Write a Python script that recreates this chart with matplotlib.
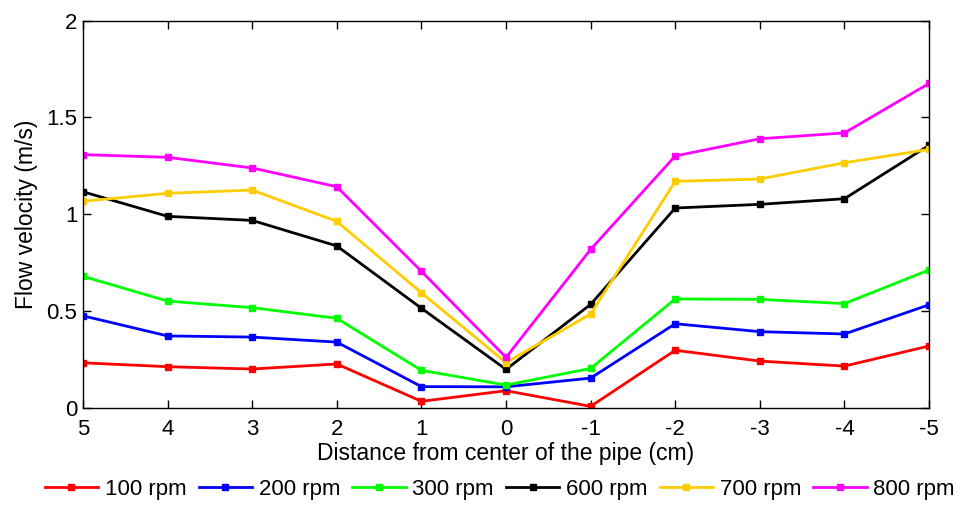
import numpy as np
import matplotlib
matplotlib.use("Agg")
from matplotlib import pyplot as plt

plt.rcParams['font.family'] = ['Liberation Sans', 'DejaVu Sans']

# distance from the pipe centre (cm), plotted from +5 down to -5
distance = [5, 4, 3, 2, 1, 0, -1, -2, -3, -4, -5]

v_100 = [0.231, 0.211, 0.199, 0.225, 0.032, 0.087, 0.006, 0.296, 0.240, 0.214, 0.318]
v_200 = [0.474, 0.370, 0.364, 0.338, 0.108, 0.107, 0.152, 0.433, 0.392, 0.380, 0.531]
v_300 = [0.678, 0.550, 0.516, 0.461, 0.192, 0.116, 0.202, 0.561, 0.559, 0.537, 0.711]
v_600 = [1.115, 0.988, 0.967, 0.835, 0.513, 0.197, 0.533, 1.031, 1.050, 1.079, 1.355]
v_700 = [1.066, 1.107, 1.124, 0.962, 0.593, 0.232, 0.483, 1.169, 1.181, 1.265, 1.334]
v_800 = [1.307, 1.293, 1.238, 1.141, 0.704, 0.259, 0.817, 1.300, 1.389, 1.419, 1.675]

labels = ["100 rpm", "200 rpm", "300 rpm", "600 rpm", "700 rpm", "800 rpm"]
colors = ["#ff0000", "#0000ff", "#00ff00", "#000000", "#ffcc00", "#ff00ff"]
series = [v_100, v_200, v_300, v_600, v_700, v_800]

fig = plt.figure(figsize=(9.8, 5.22), dpi=100)
ax = fig.add_axes([0.0847, 0.2193, 0.8633, 0.7414])

for vals, lab, col in zip(series, labels, colors):
    ax.plot(distance, vals, color=col, lw=2, marker='s', markersize=4, label=lab)

ax.set_xlim(5, -5)
ax.set_ylim(0, 2)
ax.set_xticks(distance)
ax.set_xticklabels([str(d) for d in distance])
ax.set_yticks([0, 0.5, 1, 1.5, 2])
ax.set_yticklabels(["0", "0.5", "1", "1.5", "2"])
ax.tick_params(direction='in', top=True, right=True, labelsize=16, length=6, width=1)
ax.tick_params(axis='x', pad=8)
ax.tick_params(axis='y', pad=4)
for sp in ax.spines.values():
    sp.set_linewidth(1)

ax.set_xlabel("Distance from center of the pipe (cm)", fontsize=16.5, labelpad=2)
ax.set_ylabel("Flow velocity (m/s)", fontsize=16.5, labelpad=6)

fig.legend(loc='center', bbox_to_anchor=(0.51, 0.062), ncol=6, frameon=False,
           fontsize=16, handlelength=2.4, handletextpad=0.3, columnspacing=0.55)

fig.savefig("out.png", dpi=100)
